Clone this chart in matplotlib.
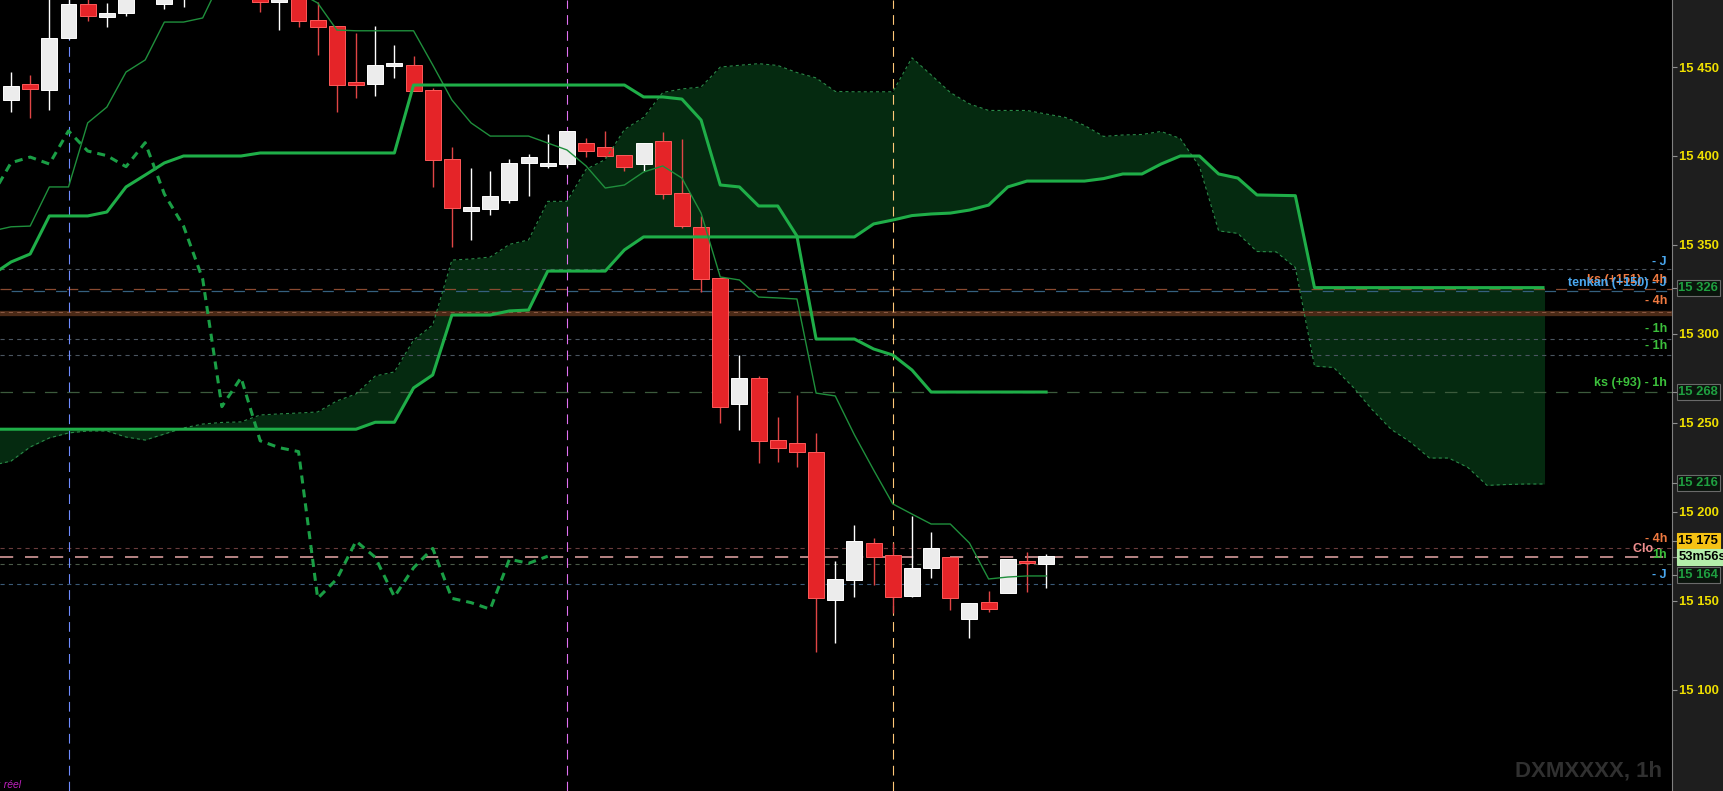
import matplotlib
matplotlib.use("Agg")
import matplotlib.pyplot as plt
import matplotlib.transforms as mtransforms
from matplotlib.lines import Line2D
import numpy as np

plt.rcParams['font.family'] = ['Liberation Sans', 'DejaVu Sans']
plt.rcParams['lines.scale_dashes'] = False

W, H, DPI = 1724, 791, 100

# ---------------- data ----------------
opens = [15431.5, 15440.5, 15437.1, 15466.3, 15485.5, 15478.3, 15480.6, 15490.0, 15485.5, 15492.0,
         15498.0, 15505.0, 15500.0, 15494.0, 15486.5, 15489.0, 15476.5, 15473.1, 15441.2, 15440.5,
         15450.6, 15451.2, 15437.1, 15398.1, 15369.2, 15370.2, 15375.3, 15396.2, 15394.4, 15395.5,
         15407.5, 15404.9, 15400.6, 15395.5, 15408.4, 15379.0, 15359.9, 15331.2, 15260.6, 15275.4,
         15240.2, 15238.6, 15233.4, 15150.4, 15161.6, 15182.3, 15175.7, 15152.8, 15168.5, 15174.4,
         15139.7, 15149.1, 15154.5, 15172.3, 15170.6]
highs = [15447.2, 15445.5, 15492.0, 15494.0, 15490.0, 15485.8, 15496.0, 15500.0, 15500.0, 15503.0,
         15508.0, 15512.0, 15506.0, 15498.0, 15492.0, 15493.0, 15486.7, 15473.1, 15469.1, 15473.1,
         15462.4, 15456.2, 15438.2, 15404.9, 15393.3, 15391.7, 15398.1, 15401.1, 15412.4, 15414.1,
         15410.0, 15414.1, 15400.6, 15407.5, 15413.5, 15409.4, 15366.3, 15331.4, 15288.1, 15276.3,
         15253.4, 15265.6, 15244.1, 15172.3, 15192.5, 15185.4, 15182.3, 15197.6, 15188.4, 15174.6,
         15148.9, 15155.4, 15173.3, 15177.5, 15176.2]
lows = [15424.7, 15421.4, 15425.9, 15466.0, 15476.1, 15472.7, 15478.9, 15489.0, 15482.6, 15483.9,
        15492.0, 15496.0, 15490.0, 15481.1, 15470.8, 15472.7, 15456.8, 15424.9, 15432.6, 15433.7,
        15443.8, 15436.5, 15382.7, 15349.0, 15352.8, 15366.8, 15373.7, 15377.5, 15393.1, 15394.0,
        15399.3, 15399.3, 15391.6, 15391.7, 15376.0, 15359.3, 15323.7, 15250.1, 15245.9, 15227.2,
        15228.1, 15225.0, 15121.1, 15126.0, 15152.2, 15158.8, 15142.9, 15152.2, 15162.9, 15144.8,
        15129.2, 15143.8, 15154.1, 15155.0, 15157.3]
closes = [15439.4, 15437.7, 15466.3, 15485.5, 15478.9, 15480.2, 15490.0, 15496.0, 15493.0, 15498.0,
          15505.0, 15500.0, 15494.0, 15486.7, 15487.0, 15476.1, 15472.7, 15439.9, 15439.9, 15451.2,
          15451.0, 15436.7, 15397.7, 15370.9, 15371.2, 15377.5, 15396.2, 15399.4, 15395.5, 15414.1,
          15402.8, 15400.2, 15394.0, 15407.5, 15378.6, 15360.6, 15330.8, 15259.1, 15275.4, 15239.9,
          15236.0, 15233.8, 15151.3, 15162.2, 15183.5, 15174.4, 15152.2, 15168.5, 15179.4, 15151.3,
          15148.9, 15145.2, 15173.3, 15171.0, 15175.0]

# tenkan / kijun at bar positions -1 .. 54
tenkan = [15357.8, 15360.2, 15360.6, 15382.6, 15382.6, 15418.6, 15427.5, 15447.2, 15454.0, 15475.3,
          15475.3, 15477.6, 15500.0, 15502.0, 15502.0, 15498.0, 15492.0, 15486.0, 15470.8, 15470.4,
          15470.4, 15470.4, 15470.4, 15451.2, 15431.5, 15418.6, 15411.2, 15411.2, 15411.2, 15407.3,
          15403.4, 15394.4, 15382.0, 15383.7, 15391.0, 15394.4, 15387.6, 15367.9, 15332.0, 15330.3,
          15320.7, 15320.2, 15319.6, 15266.7, 15265.1, 15243.2, 15223.5, 15204.4, 15198.7, 15193.1,
          15193.1, 15182.4, 15162.2, 15163.3, 15163.9, 15163.9]
kijun = [15333.1, 15340.4, 15344.9, 15366.3, 15366.3, 15366.3, 15368.5, 15382.6, 15389.3, 15396.1,
         15400.0, 15400.0, 15400.0, 15400.0, 15401.7, 15401.7, 15401.7, 15401.7, 15401.7, 15401.7,
         15401.7, 15401.7, 15439.9, 15439.9, 15439.9, 15439.9, 15439.9, 15439.9, 15439.9, 15439.9,
         15439.9, 15439.9, 15439.9, 15439.9, 15433.2, 15433.2, 15432.0, 15420.2, 15383.7, 15382.6,
         15371.9, 15371.9, 15355.0, 15297.1, 15297.1, 15297.1, 15291.5, 15288.1, 15279.7, 15267.3,
         15267.3, 15267.3, 15267.3, 15267.3, 15267.3, 15267.3]

# cloud spans at positions -1 .. 80
senkou_a = [15226.0, 15228.5, 15236.4, 15241.5, 15244.3, 15245.4, 15245.4, 15242.0, 15240.3, 15243.7,
            15247.1, 15249.3, 15250.2, 15250.5, 15254.4, 15255.0, 15255.5, 15256.1, 15262.3, 15266.2,
            15276.3, 15278.6, 15296.5, 15305.0, 15341.5, 15342.1, 15343.2, 15350.3, 15352.8, 15374.5,
            15374.5, 15392.5, 15398.0, 15414.9, 15421.7, 15435.7, 15437.7, 15438.8, 15450.0, 15451.0,
            15451.9, 15450.9, 15446.9, 15443.9, 15436.3, 15436.1, 15436.1, 15436.1, 15455.2, 15445.6,
            15435.7, 15429.3, 15425.6, 15425.6, 15425.6, 15423.6, 15421.7, 15417.2, 15411.0, 15411.8,
            15412.1, 15413.8, 15409.8, 15394.1, 15357.9, 15356.5, 15346.3, 15346.1, 15337.3, 15281.9,
            15281.1, 15270.2, 15257.5, 15246.3, 15239.2, 15230.2, 15230.2, 15224.9, 15214.8, 15215.3,
            15215.6, 15215.6]
senkou_b = [15246.4, 15246.4, 15246.4, 15246.4, 15246.4, 15246.4, 15246.4, 15246.4, 15246.4, 15246.4,
            15246.4, 15246.4, 15246.4, 15246.4, 15246.4, 15246.4, 15246.4, 15246.4, 15246.4, 15246.4,
            15250.3, 15250.3, 15269.6, 15276.9, 15310.6, 15310.6, 15310.6, 15312.9, 15313.4, 15335.3,
            15335.3, 15335.3, 15335.3, 15347.2, 15354.5, 15354.5, 15354.5, 15354.5, 15354.5, 15354.5,
            15354.5, 15354.5, 15354.5, 15354.5, 15354.5, 15354.5, 15361.8, 15364.0, 15366.5, 15367.4,
            15367.9, 15369.6, 15372.4, 15382.6, 15385.9, 15385.9, 15385.9, 15385.9, 15387.3, 15389.9,
            15389.9, 15395.5, 15400.0, 15400.0, 15389.9, 15387.6, 15378.1, 15377.9, 15377.7, 15326.0,
            15326.0, 15326.0, 15326.0, 15326.0, 15326.0, 15326.0, 15326.0, 15326.0, 15326.0, 15326.0,
            15326.0, 15326.0]

# chikou = closes of bars 25..54 drawn at positions -1..28
chikou_start = 25
chikou_shift = 26

vline_bars = [3, 29, 46]
y_ticks = [15100, 15150, 15200, 15250, 15300, 15350, 15400, 15450]

lvl_short = [15336.3, 15296.9, 15288.1]
lvl_orange = 15325.1
lvl_blue = 15324.1
lvl_band = 15311.7
lvl_kijun_h = 15267.2
lvl_4h_low = 15179.4
lvl_close = 15174.6
lvl_1h_low = 15170.4
lvl_j_low = 15159.2

right_labels = [
    ("- J", 15340.6, 'J'),
    ("ks (+151) - 4h", 15330.3, '4h'),
    ("tenkan (+150) - J", 15328.8, 'J'),
    ("- 4h", 15318.5, '4h'),
    ("- 1h", 15302.7, '1h'),
    ("- 1h", 15293.2, '1h'),
    ("ks (+93) - 1h", 15272.4, '1h'),
    ("- 4h", 15184.7, '4h'),
    ("1h", 15175.7, '1h'),
    ("- J", 15164.4, 'J'),
]
clo_label = ("Clo -", 15179.1)

box_labels = [
    ("15 326", 15326.0, 'dark'),
    ("15 268", 15267.5, 'dark'),
    ("15 216", 15216.0, 'dark'),
    ("15 175", 15183.5, 'gold'),
    ("53m56s", 15174.6, 'timer'),
    ("15 164", 15164.2, 'dark'),
]
watermark = "DXMXXXX, 1h"
corner_text = ": réel"

# ---------------- figure ----------------
YMIN, YMAX = 15043.0, 15487.7
XMIN, XMAX = -0.574, 86.65
AX_RIGHT = 1672 / W

fig = plt.figure(figsize=(W / DPI, H / DPI), dpi=DPI, facecolor='#1e1e1e')
ax = fig.add_axes([0, 0, AX_RIGHT, 1])
ax.set_facecolor('black')
ax.set_xlim(XMIN, XMAX)
ax.set_ylim(YMIN, YMAX)

# cloud
xs_cloud = np.arange(-1, -1 + len(senkou_a))
ax.fill_between(xs_cloud, senkou_a, senkou_b, color='#052a10', lw=0, zorder=1)
ax.plot(xs_cloud, senkou_a, color='#2a8a48', lw=0.8, ls=(0, (2.2, 2.2)), zorder=4)
ax.plot(xs_cloud, senkou_b, color='#1fae48', lw=2.2, zorder=5, solid_capstyle='butt')

# horizontal levels
for lv in lvl_short:
    ax.axhline(lv, color='#4a5560', lw=0.8, ls=(0, (3, 3)), zorder=2)
ax.axhline(lvl_band, color='#4b2a17', lw=3.8, zorder=2)
ax.axhline(lvl_band + 0.8, color='#8c5a45', lw=0.7, ls=(0, (3, 3)), zorder=2)
ax.axhline(lvl_orange, color='#8a4a30', lw=0.9, ls=(0, (8, 8)), zorder=2)
ax.axhline(lvl_blue, color='#35607f', lw=0.9, ls=(8, (8, 8)), zorder=2)
ax.axhline(lvl_kijun_h, color='#3c5a3c', lw=0.9, ls=(0, (9, 7)), zorder=2)
ax.axhline(lvl_4h_low, color='#6a3c3c', lw=0.8, ls=(0, (3, 3)), zorder=2)
ax.axhline(lvl_close, color='#e8a8a8', lw=1.1, ls=(0, (9.5, 8.5)), zorder=2)
ax.axhline(lvl_1h_low, color='#4a5a48', lw=0.8, ls=(0, (3, 3)), zorder=2)
ax.axhline(lvl_j_low, color='#3a5a78', lw=0.8, ls=(0, (3, 3)), zorder=2)

# vertical session lines
for b, c in zip(vline_bars, ['#6f8cff', '#e070f0', '#ffc878']):
    ax.axvline(b, color=c, lw=0.8, ls=(0, (7, 4.5)), zorder=2)

# candles
xb = np.arange(len(opens))
o = np.array(opens); c = np.array(closes); h = np.array(highs); l = np.array(lows)
up = c >= o
bottom = np.minimum(o, c)
height = np.maximum(np.abs(c - o), 1.5)
wick_col = np.where(up, '#ffffff', '#e04545')
ax.vlines(xb, l, h, colors=list(wick_col), lw=1.0, zorder=3)
ax.bar(xb[up], height[up], bottom=bottom[up], width=0.83, color='#ececec',
       edgecolor='#ffffff', lw=0.7, zorder=3.5)
ax.bar(xb[~up], height[~up], bottom=bottom[~up], width=0.83, color='#e52428',
       edgecolor='#ff5a5a', lw=0.7, zorder=3.5)

# ichimoku lines
xl = np.arange(-1, -1 + len(tenkan))
ax.plot(xl, tenkan, color='#1f8f3c', lw=1.0, zorder=6)
ax.plot(xl, kijun, color='#1fae48', lw=2.2, zorder=6)
chik = closes[chikou_start:]
xc = np.arange(chikou_start - chikou_shift, chikou_start - chikou_shift + len(chik))
ax.plot(xc, chik, color='#1a9e45', lw=2.2, ls=(0, (5.8, 4.3)), zorder=6,
        dash_capstyle='butt')

# axis styling
for s in ['top', 'left', 'bottom']:
    ax.spines[s].set_visible(False)
ax.spines['right'].set_color('#808080')
ax.spines['right'].set_linewidth(0.8)
ax.set_xticks([])
ax.yaxis.tick_right()
ax.set_yticks(y_ticks)
ax.set_yticklabels([f"{v:,}".replace(",", " ") for v in y_ticks])
ax.tick_params(axis='y', colors='#909090', length=3.6, width=0.8, pad=1.5,
               labelsize=9.4, labelcolor='#f0e000')
for t in ax.get_yticklabels():
    t.set_fontweight('bold')

# right-side labels inside plot
lab_col = {'J': '#4aa8f0', '4h': '#f07a40', '1h': '#3cc03c'}
trans = mtransforms.blended_transform_factory(ax.transAxes, ax.transData)
xr = 1667 / 1672
for txt, yv, kind in right_labels:
    ax.text(xr, yv, txt, transform=trans, ha='right', va='center', fontsize=9,
            fontweight='bold', color=lab_col[kind], zorder=8)
ax.text(1661 / 1672, clo_label[1], clo_label[0], transform=trans, ha='right', va='center',
        fontsize=9, fontweight='bold', color='#f09090', zorder=7)

# boxes on the price scale
def yfrac(v):
    return (v - YMIN) / (YMAX - YMIN)

styles = {
    'dark': dict(fc='#0a140c', ec='#6a6a6a', tc='#1fa040'),
    'gold': dict(fc='#f5c214', ec='#f5c214', tc='#000000'),
    'timer': dict(fc='#b4eeaa', ec='#b4eeaa', tc='#000000'),
}
for txt, yv, st in box_labels:
    s = styles[st]
    fig.text(1678.5 / W, yfrac(yv), txt, ha='left', va='center', fontsize=9.4,
             fontweight='bold', color=s['tc'],
             bbox=dict(boxstyle='square,pad=0.15', fc=s['fc'], ec=s['ec'], lw=0.8))
    fig.add_artist(Line2D([AX_RIGHT, 1677 / W], [yfrac(yv), yfrac(yv)],
                          color='#909090', lw=0.8, transform=fig.transFigure))

# watermark and corner text
ax.text(1662 / 1672, 1 - 771 / 791, watermark, transform=ax.transAxes, ha='right',
        va='center', fontsize=16, fontweight='bold', color='#303030', zorder=1.5)
ax.text(-0.001, 1 - 785 / 791, corner_text, transform=ax.transAxes, ha='left',
        va='center', fontsize=7.5, style='italic', color='#c020c0', zorder=8)

fig.savefig('out.png', dpi=DPI, facecolor=fig.get_facecolor())
